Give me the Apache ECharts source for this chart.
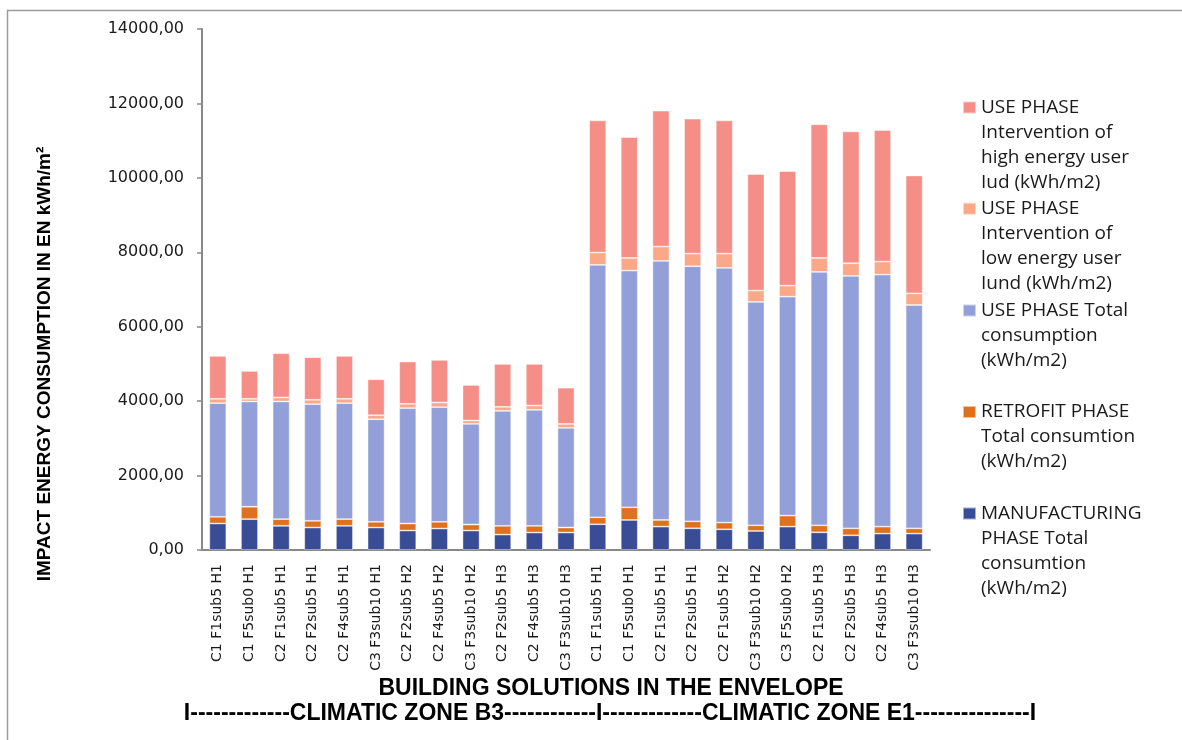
<!DOCTYPE html>
<html>
<head>
<meta charset="utf-8">
<script src="https://cdn.jsdelivr.net/npm/echarts@6/dist/echarts.min.js"></script>
<style>
html,body{margin:0;padding:0;background:#fff;}
#chart{width:1182px;height:740px;}
</style>
</head>
<body>
<div id="chart"></div>
<script>
var categories = [
  'C1 F1sub5 H1','C1 F5sub0 H1','C2 F1sub5 H1','C2 F2sub5 H1','C2 F4sub5 H1','C3 F3sub10 H1',
  'C2 F2sub5 H2','C2 F4sub5 H2','C3 F3sub10 H2','C2 F2sub5 H3','C2 F4sub5 H3','C3 F3sub10 H3',
  'C1 F1sub5 H1','C1 F5sub0 H1','C2 F1sub5 H1','C2 F2sub5 H1','C2 F1sub5 H2','C3 F3sub10 H2',
  'C3 F5sub0 H2','C2 F1sub5 H3','C2 F2sub5 H3','C2 F4sub5 H3','C3 F3sub10 H3'
];
var manufacturing = [712, 829, 649, 604, 649, 604, 523, 577, 523, 414, 469, 469, 691, 807, 628, 583, 556, 511, 628, 475, 395, 440, 440];
var retrofit      = [180, 333, 180, 180, 180, 153, 189, 180, 162, 235, 180, 135, 188, 341, 179, 188, 180, 153, 296, 189, 188, 188, 143];
var useTotal      = [3054, 2829, 3162, 3135, 3117, 2757, 3099, 3081, 2703, 3090, 3117, 2676, 6781, 6360, 6961, 6854, 6844, 6001, 5884, 6808, 6781, 6772, 6001];
var useLow        = [117, 72, 108, 117, 117, 108, 117, 126, 90, 108, 117, 108, 332, 341, 386, 340, 385, 305, 296, 377, 341, 350, 314];
var useHigh       = [1153, 748, 1189, 1144, 1153, 964, 1135, 1144, 955, 1153, 1117, 973, 3552, 3247, 3651, 3624, 3579, 3130, 3077, 3588, 3543, 3534, 3166];

var yTicks = { min: 0, max: 14000, interval: 2000 };

var seriesNames = [
  'MANUFACTURING PHASE Total consumtion (kWh/m2)',
  'RETROFIT PHASE Total consumtion (kWh/m2)',
  'USE PHASE Total consumption (kWh/m2)',
  'USE PHASE Intervention of low energy user Iund (kWh/m2)',
  'USE PHASE Intervention of high energy user Iud (kWh/m2)'
];
var legendLines = [
  ['MANUFACTURING', 'PHASE Total', 'consumtion', '(kWh/m2)'],
  ['RETROFIT PHASE', 'Total consumtion', '(kWh/m2)'],
  ['USE PHASE Total', 'consumption', '(kWh/m2)'],
  ['USE PHASE', 'Intervention of', 'low energy user', 'Iund (kWh/m2)'],
  ['USE PHASE', 'Intervention of', 'high energy user', 'Iud (kWh/m2)']
];
var seriesColors = ['#394C96', '#E0711C', '#939FD8', '#FBA889', '#F48E86'];
var seriesData = [manufacturing, retrofit, useTotal, useLow, useHigh];
var legendIconCenters = [513.5, 412, 310.5, 208.7, 107.5];

var xTitle = 'BUILDING SOLUTIONS IN THE ENVELOPE';
var zoneLine = 'I-------------CLIMATIC ZONE B3------------I-------------CLIMATIC ZONE E1---------------I';
var yTitle = 'IMPACT ENERGY CONSUMPTION IN EN kWh/m\u00B2';

var LH = 25;
var legends = seriesNames.map(function (name, i) {
  var lines = legendLines[i];
  var blanks = [];
  for (var k = 0; k < lines.length - 1; k++) blanks.push(' ');
  var text = blanks.concat(lines).join('\n');
  var total = lines.length * 2 - 1;
  return {
    data: [name],
    orient: 'vertical',
    left: 962,
    top: legendIconCenters[i] - total * LH / 2,
    padding: 0,
    itemWidth: 13,
    itemHeight: 12,
    icon: 'rect',
    selectedMode: false,
    formatter: function () { return text; },
    textStyle: { fontFamily: 'Open Sans', fontSize: 19, color: '#1a1a1a', lineHeight: LH }
  };
});

var series = seriesNames.map(function (name, i) {
  return {
    name: name,
    type: 'bar',
    stack: 'total',
    barWidth: 17,
    data: seriesData[i],
    itemStyle: { color: seriesColors[i], borderColor: 'rgba(255,255,255,0.55)', borderWidth: 0.8 },
    emphasis: { disabled: true }
  };
});

var boldFont = '"Liberation Sans", Arial, sans-serif';

var chart = echarts.init(document.getElementById('chart'), null, { renderer: 'canvas' });
chart.setOption({
  animation: false,
  backgroundColor: '#fff',
  grid: { left: 202, right: 252, top: 29, bottom: 190, containLabel: false, outerBoundsMode: 'none' },
  legend: legends,
  xAxis: {
    type: 'category',
    data: categories,
    axisLine: { lineStyle: { color: '#888', width: 2 } },
    axisTick: { show: false },
    axisLabel: { rotate: 90, margin: 14, interval: 0, fontFamily: 'DejaVu Sans', fontSize: 14, color: '#1a1a1a' }
  },
  yAxis: {
    type: 'value',
    min: yTicks.min, max: yTicks.max, interval: yTicks.interval,
    splitLine: { show: false },
    axisLine: { show: true, lineStyle: { color: '#888', width: 2 } },
    axisTick: { show: true, length: 5, lineStyle: { color: '#888', width: 1.5 } },
    axisLabel: {
      margin: 18, fontFamily: 'DejaVu Sans', fontSize: 16, color: '#1a1a1a',
      formatter: function (v) { return v.toFixed(2).replace('.', ','); }
    }
  },
  series: series,
  graphic: [
    { type: 'rect', silent: true, shape: { x: 7.5, y: 10.5, width: 1300, height: 900 },
      style: { fill: 'none', stroke: '#9a9a9a', lineWidth: 1.5 } },
    { type: 'text', silent: true, x: 611, y: 689,
      style: { text: xTitle, align: 'center', verticalAlign: 'middle', fill: '#000',
               font: 'bold 23px ' + boldFont } },
    { type: 'text', silent: true, x: 610, y: 714,
      style: { text: zoneLine, align: 'center', verticalAlign: 'middle', fill: '#000',
               font: 'bold 23px ' + boldFont } },
    { type: 'text', silent: true, x: 45, y: 364, rotation: Math.PI / 2,
      style: { text: yTitle, align: 'center', verticalAlign: 'middle', fill: '#000',
               font: 'bold 19px ' + boldFont } }
  ]
});
</script>
</body>
</html>
